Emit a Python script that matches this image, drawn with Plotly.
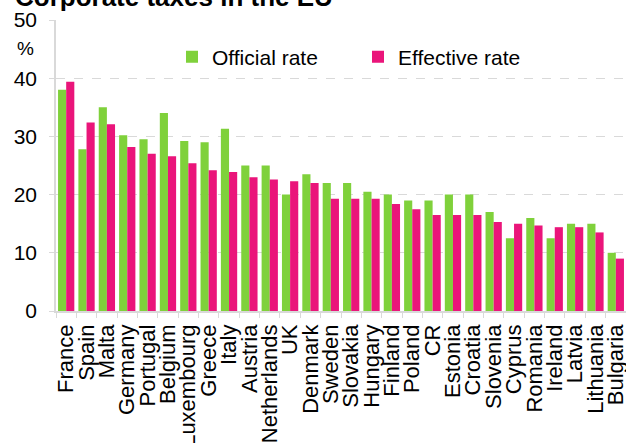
import plotly.graph_objects as go

countries = ["France", "Spain", "Malta", "Germany", "Portugal", "Belgium", "Luxembourg",
             "Greece", "Italy", "Austria", "Netherlands", "UK", "Denmark", "Sweden",
             "Slovakia", "Hungary", "Finland", "Poland", "CR", "Estonia", "Croatia",
             "Slovenia", "Cyprus", "Romania", "Ireland", "Latvia", "Lithuania", "Bulgaria"]
official_rate = [38.0, 27.8, 35.0, 30.2, 29.5, 34.0, 29.2, 29.0, 31.3, 25.0, 25.0, 20.0,
                 23.5, 22.0, 22.0, 20.5, 20.0, 19.0, 19.0, 20.0, 20.0, 17.0, 12.5, 16.0,
                 12.5, 15.0, 15.0, 10.0]
effective_rate = [39.4, 32.4, 32.1, 28.2, 27.0, 26.6, 25.4, 24.2, 23.9, 23.0, 22.6, 22.3,
                  22.0, 19.3, 19.3, 19.3, 18.4, 17.5, 16.5, 16.5, 16.5, 15.3, 15.0, 14.7,
                  14.4, 14.4, 13.5, 9.0]

GREEN = "#7FD13B"
PINK = "#EA157A"
FONT = "Liberation Sans, Arial, sans-serif"
GRID = "#D9D9D9"

fig = go.Figure()
fig.add_trace(go.Bar(x=countries, y=official_rate, name="Official rate",
                     marker=dict(color=GREEN, line=dict(width=0))))
fig.add_trace(go.Bar(x=countries, y=effective_rate, name="Effective rate",
                     marker=dict(color=PINK, line=dict(width=0))))

fig.update_layout(
    width=626, height=443,
    margin=dict(l=56, r=0, t=20, b=132, autoexpand=False),
    paper_bgcolor="white", plot_bgcolor="white",
    font=dict(family=FONT, size=21, color="black"),
    barmode="group", bargap=0.2, bargroupgap=0.0,
    showlegend=True,
    legend=dict(orientation="h", x=(172 - 56) / 570, xanchor="left",
                y=(311 - 57) / 291, yanchor="middle",
                bgcolor="rgba(0,0,0,0)", font=dict(size=21),
                entrywidth=141, entrywidthmode="pixels", traceorder="normal"),
    annotations=[
        dict(text="<b>Corporate taxes in the EU</b>", xref="paper", yref="paper",
             x=(13 - 56) / 570, y=1.021, xanchor="left", yanchor="bottom",
             showarrow=False, font=dict(size=26, color="black")),
        dict(text="%", xref="paper", yref="paper",
             x=(25.5 - 56) / 570, y=(311 - 49) / 291, xanchor="center", yanchor="middle",
             showarrow=False, font=dict(size=19, color="black")),
    ],
)
fig.update_xaxes(
    type="category", tickangle=-90, automargin=False, tickmode="linear", dtick=1,
    showline=True, linecolor=GRID, linewidth=1.5,
    ticks="outside", tickson="boundaries", ticklen=5, tickcolor=GRID,
    showgrid=False, tickfont=dict(size=22), ticklabelstandoff=3,
)
fig.update_yaxes(
    range=[0, 50], dtick=10, automargin=False,
    showline=True, linecolor=GRID, linewidth=1.5,
    ticks="outside", ticklen=5, tickcolor=GRID,
    showgrid=True, gridcolor=GRID, griddash="dash", gridwidth=1,
    zeroline=False, tickfont=dict(size=21), ticklabelstandoff=8,
)

fig.write_html("out.html")
